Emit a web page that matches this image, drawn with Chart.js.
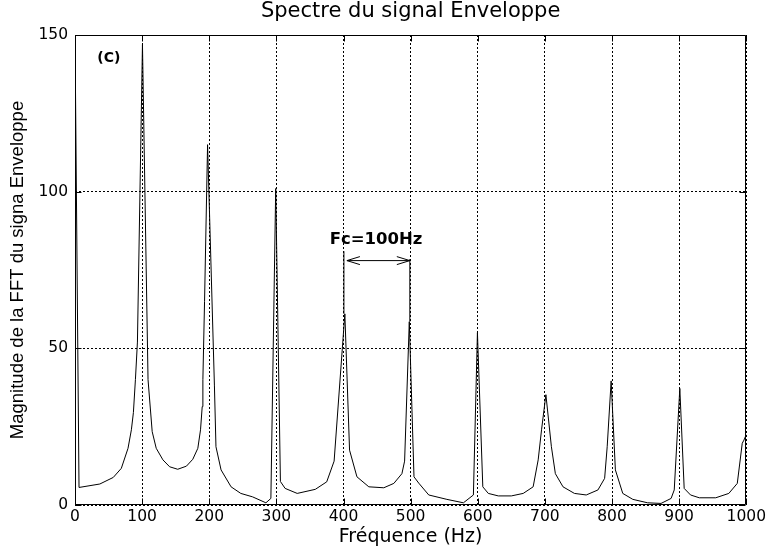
<!DOCTYPE html>
<html lang="fr">
<head>
<meta charset="UTF-8">
<title>Spectre du signal Enveloppe</title>
<script src="https://cdn.jsdelivr.net/npm/chart.js"></script>
<style>
  html, body { margin: 0; padding: 0; background: #fff; }
  #wrap { width: 769px; height: 552px; }
</style>
</head>
<body>
<div id="wrap"><canvas id="spectre"></canvas></div>
<script>
// frequences (Hz) et magnitudes
const freq = [0, 6, 37, 57, 69, 79, 84, 87, 90, 93, 100.5, 108.8, 115, 121, 131, 141, 153, 166, 175.5, 183, 187, 189.5, 190.5, 193, 197.5,
  207.7, 210, 217.6, 232.5, 247, 264.5, 284.4, 291.8, 299, 306, 313, 331, 358, 375, 386, 402, 409, 420, 437.7, 460, 475, 487, 491, 498,
  505, 512, 527, 554, 578.6, 593.5, 599.5, 607.5, 615.7, 630.6, 650, 667.7, 682.5, 690, 695, 701.5, 709.7, 715.6, 727, 744, 761.6, 779,
  789, 792.8, 798.7, 805, 816, 831, 853, 873, 888, 892.7, 901, 907.5, 917, 930, 954.5, 974, 986.6, 994, 996.5, 1000];
const mag = [150, 5.6, 6.7, 8.8, 11.7, 18.1, 24, 29.5, 40, 52, 147, 40, 23.4, 18.1, 14.4, 12.2, 11.4, 12.4, 14.6, 18.1, 24, 31.4, 40, 65, 115,
  38, 18.6, 11.2, 5.8, 3.7, 2.6, 0.7, 2.1, 101, 7.5, 5.3, 3.7, 5, 7.4, 14, 61, 17.5, 9, 5.8, 5.5, 6.9, 10, 14, 58.5,
  9, 7, 3.2, 1.8, 0.7, 3.2, 55, 5.8, 3.7, 2.9, 2.9, 3.7, 5.8, 14.4, 24, 35.2, 18.6, 10, 5.8, 3.7, 3.2, 4.8,
  8.5, 18.6, 39.6, 11.2, 3.7, 1.8, 0.7, 0.5, 2.1, 4.8, 37.2, 5.3, 3.2, 2.3, 2.3, 3.7, 6.9, 19.7, 20.7, 22.5];

const xTicks = [0, 100, 200, 300, 400, 500, 600, 700, 800, 900, 1000];
const yTicks = [0, 50, 100, 150];

const titre = 'Spectre du signal Enveloppe';

// annotation Fc (en unites des axes)
const fcText = 'Fc=100Hz';
const fcLeft = 400.6, fcRight = 498.8, fcArrowY = 78;
const fcLeftTop = 81, fcRightTop = 78.5, fcLeftPeak = 61, fcRightPeak = 58.5;
const fcTextPos = { x: 448.5, y: 84.6 };
const panelText = '(C)';
const panelPos = { x: 50.5, y: 142.4 };

const points = freq.map((f, i) => ({ x: f, y: mag[i] }));

const sansFont = "'DejaVu Sans', sans-serif";

// titre centre sur la zone du trace, cadre, graduations interieures et annotations
const cadre = {
  id: 'cadre',
  afterDraw(chart) {
    const { ctx, chartArea: a, scales: { x, y } } = chart;
    const L = Math.round(a.left) + 0.5, R = Math.round(a.right) - 0.5;
    const T = Math.round(a.top) + 0.5, B = Math.round(a.bottom) - 0.5;
    ctx.save();
    ctx.strokeStyle = '#000';
    ctx.lineWidth = 1;
    ctx.setLineDash([]);
    ctx.beginPath();
    ctx.rect(L, T, R - L, B - T);
    xTicks.forEach(v => {
      const px = Math.round(x.getPixelForValue(v)) + 0.5;
      ctx.moveTo(px, B); ctx.lineTo(px, B - 6);
      ctx.moveTo(px, T); ctx.lineTo(px, T + 6);
    });
    yTicks.forEach(v => {
      const py = Math.round(y.getPixelForValue(v)) + 0.5;
      ctx.moveTo(L, py); ctx.lineTo(L + 6, py);
      ctx.moveTo(R, py); ctx.lineTo(R - 6, py);
    });
    ctx.stroke();

    // fleche Fc
    const xl = x.getPixelForValue(fcLeft), xr = x.getPixelForValue(fcRight);
    const ya = y.getPixelForValue(fcArrowY);
    ctx.beginPath();
    ctx.moveTo(xl, y.getPixelForValue(fcLeftPeak)); ctx.lineTo(xl, y.getPixelForValue(fcLeftTop));
    ctx.moveTo(xr, y.getPixelForValue(fcRightPeak)); ctx.lineTo(xr, y.getPixelForValue(fcRightTop));
    ctx.moveTo(xl + 3, ya); ctx.lineTo(xr, ya);
    ctx.moveTo(xl + 16, ya - 4); ctx.lineTo(xl + 3, ya); ctx.lineTo(xl + 16, ya + 4);
    ctx.moveTo(xr - 13, ya - 4); ctx.lineTo(xr, ya); ctx.lineTo(xr - 13, ya + 4);
    ctx.stroke();

    ctx.fillStyle = '#000';
    ctx.textAlign = 'center';
    ctx.textBaseline = 'middle';
    ctx.font = "bold 16.5px " + sansFont;
    ctx.fillText(fcText, x.getPixelForValue(fcTextPos.x), y.getPixelForValue(fcTextPos.y));
    ctx.font = "bold 14px " + sansFont;
    ctx.fillText(panelText, x.getPixelForValue(panelPos.x), y.getPixelForValue(panelPos.y));

    ctx.font = "21px " + sansFont;
    ctx.fillText(titre, (a.left + a.right) / 2, 12);
    ctx.restore();
  }
};

new Chart(document.getElementById('spectre'), {
  type: 'line',
  data: {
    datasets: [{
      data: points,
      borderColor: '#000',
      borderWidth: 1,
      pointRadius: 0,
      tension: 0,
      fill: false
    }]
  },
  options: {
    responsive: true,
    maintainAspectRatio: false,
    animation: false,
    layout: { padding: { left: 0, right: 20, top: 35, bottom: 0 } },
    plugins: {
      legend: { display: false },
      tooltip: { enabled: false },
      title: { display: false }
    },
    scales: {
      x: {
        type: 'linear',
        min: 0,
        max: 1000,
        afterBuildTicks: s => { s.ticks = xTicks.map(v => ({ value: v })); },
        afterFit: s => { s.height = 47; },
        ticks: {
          color: '#000',
          font: { family: sansFont, size: 15.5 },
          padding: 3,
          maxRotation: 0,
          callback: v => String(v)
        },
        grid: { color: '#000', lineWidth: 1, drawTicks: false },
        border: { display: false, dash: [2, 2] },
        title: {
          display: true,
          text: 'Fréquence (Hz)',
          color: '#000',
          font: { family: sansFont, size: 19 },
          padding: { top: 0, bottom: 4 }
        }
      },
      y: {
        min: 0,
        max: 150,
        afterBuildTicks: s => { s.ticks = yTicks.map(v => ({ value: v })); },
        afterFit: s => { s.width = 75; },
        ticks: { color: '#000', font: { family: sansFont, size: 15.5 }, padding: 7, callback: v => String(v) },
        grid: { color: '#000', lineWidth: 1, drawTicks: false },
        border: { display: false, dash: [2, 2] },
        title: {
          display: true,
          text: 'Magnitude de la FFT du signa Enveloppe',
          color: '#000',
          font: { family: "'Liberation Sans', Arial, sans-serif", size: 18.5 },
          padding: { top: 7, bottom: 0 }
        }
      }
    }
  },
  plugins: [cadre]
});
</script>
</body>
</html>
